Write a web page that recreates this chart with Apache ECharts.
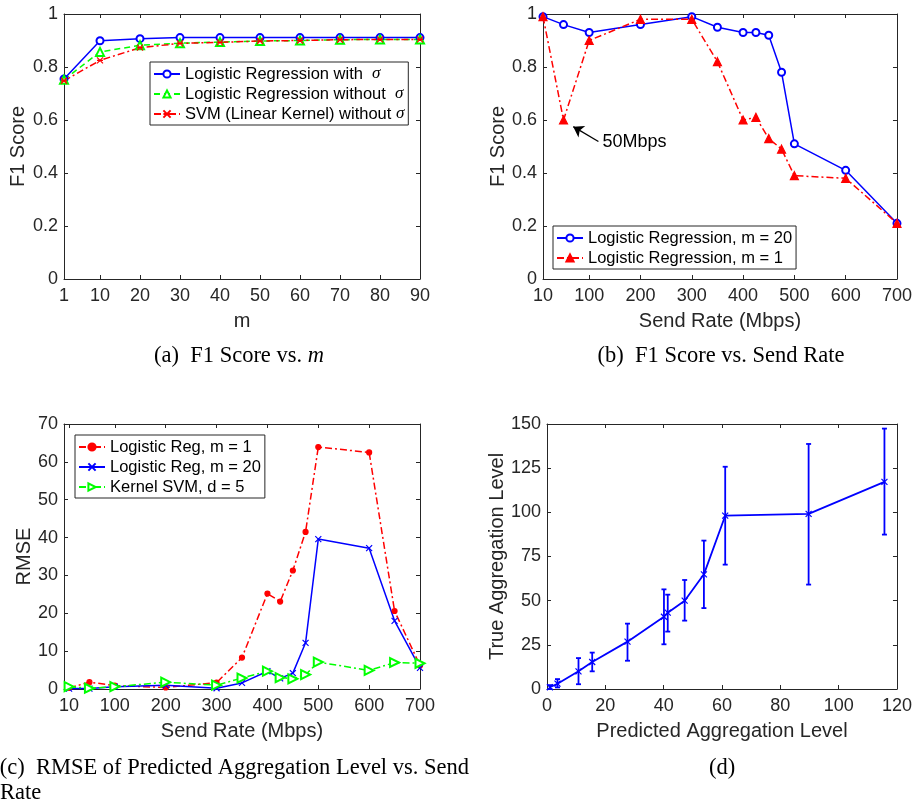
<!DOCTYPE html>
<html><head><meta charset="utf-8">
<script src="https://cdn.jsdelivr.net/npm/echarts@6/dist/echarts.min.js"></script>
<style>html,body{margin:0;padding:0;background:#fff}#c{width:915px;height:808px}</style>
</head><body><div id="c"></div>
<script>
// ---------- (a) F1 Score vs. m ----------
const mValues = [1,10,20,30,40,50,60,70,80,90];
const mTicks = [1,10,20,30,40,50,60,70,80,90];
const f1LRWithSigma = [0.755,0.899,0.907,0.911,0.911,0.911,0.911,0.911,0.911,0.911];
const f1LRWithoutSigma = [0.752,0.857,0.882,0.890,0.894,0.898,0.900,0.903,0.904,0.904];
const f1SVMLinear = [0.748,0.825,0.873,0.889,0.893,0.898,0.900,0.903,0.904,0.904];
const namesA = ['Logistic Regression with  σ','Logistic Regression without  σ','SVM (Linear Kernel) without σ'];
// ---------- (b) F1 Score vs. Send Rate ----------
const sendRates = [10,50,100,200,300,350,400,425,450,475,500,600,700];
const rateTicks = [10,100,200,300,400,500,600,700];
const f1LRm20 = [0.99,0.96,0.93,0.96,0.99,0.95,0.93,0.93,0.92,0.78,0.51,0.41,0.21];
const f1LRm1 = [0.99,0.60,0.90,0.98,0.98,0.82,0.60,0.61,0.53,0.49,0.39,0.38,0.21];
const namesB = ['Logistic Regression, m = 20','Logistic Regression, m = 1'];
const annotText = '50Mbps';
const annotArrowFrom = [118, 0.519];
const annotArrowTo = [69, 0.575];
const annotTextAt = [116, 0.515];
// ---------- (c) RMSE vs. Send Rate ----------
const rmseRates = [10,50,100,200,300,350,400,425,450,475,500,600,650,700];
const rmseLRm1 = [0.3,1.8,0.9,0.4,1.7,8.3,25.2,23.1,31.3,41.5,63.9,62.5,20.6,6.2];
const rmseLRm20 = [0.1,0.1,0.6,1.0,0.2,1.6,4.7,2.8,4.2,12.2,39.6,37.2,18.0,5.6];
const rmseKSVM = [0.6,0.2,0.6,1.8,1.0,2.9,4.7,3.0,2.7,3.8,7.1,4.9,7.0,6.8];
const namesC = ['Logistic Reg, m = 1','Logistic Reg, m = 20','Kernel SVM, d = 5'];
// ---------- (d) True vs. Predicted Aggregation Level ----------
const predLevel = [1.0,3.6,10.8,15.5,27.6,40.1,41.4,47.2,53.8,61.1,89.7,115.7];
const trueLevel = [1.0,3.0,10.0,15.3,26.8,40.9,43.2,50.0,64.9,98.1,99.1,117.2];
const trueLow  = [0.0,0.9,2.7,10.0,16.0,25.3,32.5,38.7,45.8,70.4,59.1,87.4];
const trueHigh = [2.2,5.6,17.5,20.6,37.0,56.4,53.4,61.7,84.0,125.8,138.7,147.4];
// ---------- captions ----------
const captionA = '(a)  F1 Score vs. {i|m}';
const captionB = '(b)  F1 Score vs. Send Rate';
const captionC1 = '(c)  RMSE of Predicted Aggregation Level vs. Send';
const captionC2 = 'Rate';
const captionD = '(d)';

const FONT = "'Liberation Sans', Arial, Helvetica, sans-serif";
const SERIF = "'Liberation Serif', 'Times New Roman', serif";
const AX = '#262626';
const BLUE = '#0000ff', RED = '#ff0000', GREEN = '#00ff00';
const XSYM = 'path://M0,0L10,10M10,0L0,10';
const STAR = 'path://M0,0L10,10M10,0L0,10M0,5L10,5';
const DASH = [6,4];
const DASHDOT = [7,3,2,3];

const zip = (xs, ys) => xs.map((x, i) => [x, ys[i]]);

const grids = [
  {left:64, top:14, width:356, height:265},
  {left:543, top:14, width:356, height:265},
  {left:64, top:424, width:356, height:265},
  {left:547, top:424, width:352, height:265}
];

function axis(grid, pos, c, main) {
  const o = {
    type:'value', gridIndex:grid, position:pos, min:c.min, max:c.max, interval:c.interval,
    axisLine:{show:true, onZero:false, lineStyle:{color:AX, width:1}},
    axisTick:{show:true, inside:true, length:4, lineStyle:{color:AX, width:1}},
    axisLabel:{show:main, margin:c.margin, color:AX, fontSize:18, fontFamily:FONT},
    splitLine:{show:false},
    name: main ? c.name : '', nameLocation:'middle', nameGap:c.gap,
    nameTextStyle:{color:AX, fontSize:20, fontFamily:FONT}
  };
  if (c.ticks) { o.axisTick.customValues = c.ticks; o.axisLabel.customValues = c.ticks; }
  return o;
}
const xCfg = [
  {min:1, max:90, ticks:mTicks, name:'m', gap:32, margin:8},
  {min:10, max:700, ticks:rateTicks, name:'Send Rate (Mbps)', gap:32, margin:8},
  {min:0, max:700, ticks:rateTicks, name:'Send Rate (Mbps)', gap:32, margin:8},
  {min:0, max:120, interval:20, name:'Predicted Aggregation Level', gap:32, margin:8}
];
const yCfg = [
  {min:0, max:1, interval:0.2, name:'F1 Score', gap:36, margin:6},
  {min:0, max:1, interval:0.2, name:'F1 Score', gap:35, margin:6},
  {min:0, max:70, interval:10, name:'RMSE', gap:30, margin:6},
  {min:0, max:150, interval:25, name:'True Aggregation Level', gap:40, margin:6}
];
const xAxes = [], yAxes = [];
for (let i = 0; i < 4; i++) { xAxes.push(axis(i, 'bottom', xCfg[i], true)); yAxes.push(axis(i, 'left', yCfg[i], true)); }
for (let i = 0; i < 4; i++) { xAxes.push(axis(i, 'top', xCfg[i], false)); yAxes.push(axis(i, 'right', yCfg[i], false)); }

function line(name, xi, data, color, type, symbol, size, width, extra) {
  return Object.assign({
    type:'line', name, xAxisIndex:xi, yAxisIndex:xi, data,
    symbol, symbolSize:size, showAllSymbol:true,
    itemStyle:{color, borderColor:color, borderWidth:1.2},
    lineStyle:{color, width:width || 1.5, type},
    emphasis:{disabled:true}, silent:true, z: 3
  }, extra || {});
}

const series = [
  line(namesA[0], 0, zip(mValues, f1LRWithSigma), BLUE, 'solid', 'emptyCircle', 7),
  line(namesA[1], 0, zip(mValues, f1LRWithoutSigma), GREEN, DASH, 'emptyTriangle', 8),
  line(namesA[2], 0, zip(mValues, f1SVMLinear), RED, DASHDOT, STAR, 6),
  line(namesB[0], 1, zip(sendRates, f1LRm20), BLUE, 'solid', 'emptyCircle', 7),
  line(namesB[1], 1, zip(sendRates, f1LRm1), RED, DASHDOT, 'triangle', 8, 1.5, {
    markLine:{silent:true, symbol:['none','arrow'], symbolSize:10, symbolRotate:null,
      itemStyle:{color:'#000'},
      lineStyle:{color:'#000', type:'solid', width:1.3}, label:{show:false},
      emphasis:{disabled:true},
      data:[[{coord:annotArrowFrom},{coord:annotArrowTo}]]},
    markPoint:{silent:true, symbol:'circle', symbolSize:0,
      label:{show:true, position:'right', distance:5, formatter:annotText, color:'#000', fontSize:18, fontFamily:FONT},
      data:[{coord:annotTextAt}]}
  }),
  line(namesC[0], 2, zip(rmseRates, rmseLRm1), RED, DASHDOT, 'circle', 5),
  line(namesC[1], 2, zip(rmseRates, rmseLRm20), BLUE, 'solid', XSYM, 6),
  line(namesC[2], 2, zip(rmseRates, rmseKSVM), GREEN, DASHDOT, 'emptyTriangle', 9, 1.5, {symbolRotate:-90}),
  line('True Aggregation Level', 3, zip(predLevel, trueLevel), BLUE, 'solid', XSYM, 6, 1.8),
  {
    type:'custom', name:'errorbars', xAxisIndex:3, yAxisIndex:3, silent:true, z:4,
    data: predLevel.map((x, i) => [x, trueLow[i], trueHigh[i]]),
    encode:{x:0, y:[1,2]},
    renderItem: function (params, api) {
      const x = api.value(0);
      const lo = api.coord([x, api.value(1)]);
      const hi = api.coord([x, api.value(2)]);
      const w = 2.5;
      const st = {stroke:BLUE, lineWidth:1.8};
      return {type:'group', children:[
        {type:'line', shape:{x1:lo[0], y1:lo[1], x2:hi[0], y2:hi[1]}, style:st},
        {type:'line', shape:{x1:lo[0]-w, y1:lo[1], x2:lo[0]+w, y2:lo[1]}, style:st},
        {type:'line', shape:{x1:hi[0]-w, y1:hi[1], x2:hi[0]+w, y2:hi[1]}, style:st}
      ]};
    }
  }
];

const legendBase = {
  orient:'vertical', itemWidth:26, itemHeight:9, itemGap:0, selectedMode:false,
  backgroundColor:'#fff', borderColor:AX, borderWidth:1, borderRadius:0,
  padding:[2,4,1,3],
  textStyle:{color:'#000', fontSize:16.5, fontFamily:FONT, lineHeight:20,
    rich:{s:{fontStyle:'italic', fontFamily:SERIF, fontSize:17, color:'#000', lineHeight:20}}},
  formatter: n => n.replace('σ', '{s|σ}')
};
const legends = [
  Object.assign({}, legendBase, {data:namesA, left:150, top:62}),
  Object.assign({}, legendBase, {data:namesB, left:553, top:226}),
  Object.assign({}, legendBase, {data:namesC, left:75, top:435})
];

const capStyle = {font:"22.5px " + SERIF, fill:'#000', align:'center', verticalAlign:'middle',
  rich:{i:{fontStyle:'italic', fontFamily:SERIF, fontSize:22.5}}};
const graphic = [
  {type:'text', style:Object.assign({}, capStyle, {text:captionA, x:239, y:356})},
  {type:'text', style:Object.assign({}, capStyle, {text:captionB, x:721, y:356})},
  {type:'text', style:Object.assign({}, capStyle, {text:captionC1, x:469, y:768, align:'right'})},
  {type:'text', style:Object.assign({}, capStyle, {text:captionC2, x:0, y:793, align:'left'})},
  {type:'text', style:Object.assign({}, capStyle, {text:captionD, x:722, y:768})}
];

const chart = echarts.init(document.getElementById('c'), null, {renderer:'canvas'});
chart.setOption({
  animation:false, backgroundColor:'#fff',
  grid:grids, xAxis:xAxes, yAxis:yAxes, legend:legends, series, graphic
});
</script></body></html>
